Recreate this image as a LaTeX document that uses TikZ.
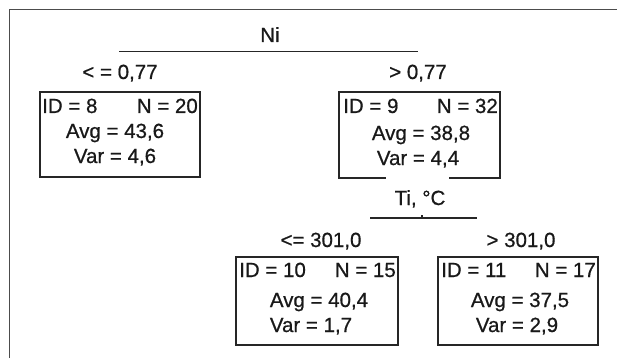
\documentclass[tikz,border=0pt]{standalone}
\usepackage{fontspec}
\setmainfont{Liberation Sans}[BoldFont={Liberation Sans}, BoldFeatures={FakeBold=0.7}]
\begin{document}
\begin{tikzpicture}[x=1pt,y=-1pt,
  txt/.style={font=\fontsize{20.5}{24}\selectfont\bfseries, inner sep=0pt, anchor=base, text=black!90},
  leafbox/.style={draw=black!85, line width=2pt, inner sep=0pt},
  split/.style={draw=black!85, line width=1.8pt},
  frame/.style={draw=black!70, line width=1.8pt}]
\useasboundingbox (0,0) rectangle (617,358);
% outer frame (top and left edges)
\coordinate (fl) at (9.5,358);
\coordinate (fc) at (9.5,9.5);
\coordinate (fr) at (617,9.5);
\draw[frame] (fl) -- (fc) -- (fr);

% root split
\node[txt] (ni) at (270,42) {Ni};
\coordinate (niL) at (119,51.5);
\coordinate (niR) at (418,51.5);
\draw[split] (niL) -- (niR);
\node[txt] (lab1) at (120,79) {< = 0,77};
\node[txt] (lab2) at (418,79) {> 0,77};

% node 8
\node[leafbox, minimum width=160pt, minimum height=85pt] (b8) at (120,134.5) {};
\node[txt, anchor=base west] (id8) at (42,113) {ID = 8};
\node[txt, anchor=base east] (n8) at (198,113) {N = 20};
\node[txt] (avg8) at (115,138) {Avg = 43,6};
\node[txt] (var8) at (115,163) {Var = 4,6};

% node 9
\node[leafbox, minimum width=161pt, minimum height=86pt] (b9) at (419.5,135) {};
\coordinate (g9a) at (386,178);
\coordinate (g9b) at (449,178);
\draw[white, line width=2.8pt] (g9a) -- (g9b);
\node[txt, anchor=base west] (id9) at (343,113) {ID = 9};
\node[txt, anchor=base east] (n9) at (498,113) {N = 32};
\node[txt] (avg9) at (421,140) {Avg = 38,8};
\node[txt] (var9) at (418,165) {Var = 4,4};

% second split
\node[txt] (ti) at (420,205) {Ti, °C};
\coordinate (tiL) at (370,218);
\coordinate (tiR) at (477,218);
\coordinate (tiM) at (422,218);
\coordinate (tiT) at (422,214.5);
\draw[split, line width=1.3pt] (tiL) -- (tiR);
\draw[split, line width=1.3pt] (tiM) -- (tiT);
\node[txt] (lab3) at (321,247) {<= 301,0};
\node[txt] (lab4) at (521,247) {> 301,0};

% node 10
\node[leafbox, minimum width=162pt, minimum height=88pt] (b10) at (317,301) {};
\node[txt, anchor=base west] (id10) at (239,277) {ID = 10};
\node[txt, anchor=base east] (n10) at (396,277) {N = 15};
\node[txt] (avg10) at (319,307) {Avg = 40,4};
\node[txt] (var10) at (311,332) {Var = 1,7};

% node 11
\node[leafbox, minimum width=160pt, minimum height=88pt] (b11) at (518,301) {};
\node[txt, anchor=base west] (id11) at (441,277) {ID = 11};
\node[txt, anchor=base east] (n11) at (596,277) {N = 17};
\node[txt] (avg11) at (520,307) {Avg = 37,5};
\node[txt] (var11) at (517,332) {Var = 2,9};
\end{tikzpicture}
\end{document}
